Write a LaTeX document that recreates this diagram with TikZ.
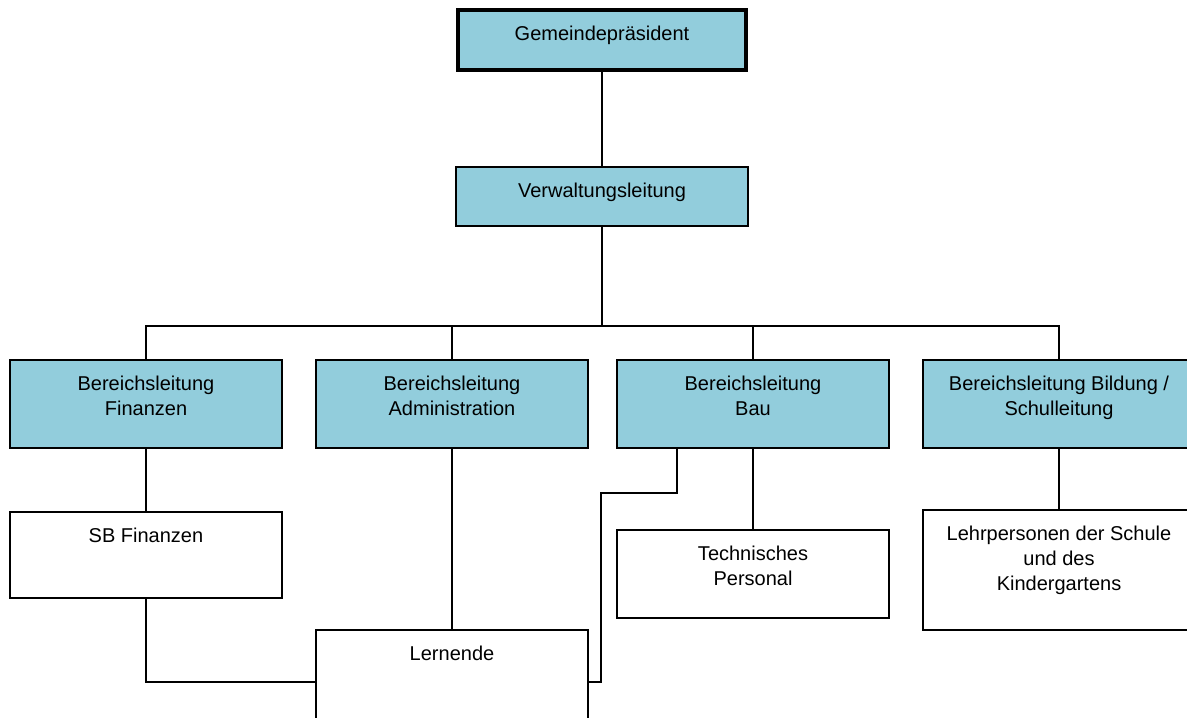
\documentclass[tikz,border=0pt]{standalone}
\usepackage{fontspec}
\setmainfont{Liberation Sans}
\usetikzlibrary{positioning}

\definecolor{leitblau}{HTML}{92CDDC}
\newcommand{\feld}[3]{\parbox[c][#1][t]{#2}{\centering\vspace*{8pt}#3}}

\begin{document}
\begin{tikzpicture}
[x=0.5pt,y=-0.5pt%
,every node/.style={draw=black,%
                    rectangle,%
                    anchor=north west,%
                    inner sep=0pt,%
                    outer sep=0pt,%
                    minimum width=136pt,%
                    line width=1pt,%
                    font=\fontsize{10}{12.5}\selectfont}%
,leitung/.style={fill=leitblau}%
,stelle/.style={fill=white}%
,linie/.style={line width=0.8pt}]
\useasboundingbox (0,0) rectangle (1187,717);
\clip (0,0) rectangle (1187,717);
\node[leitung,line width=2.2pt,minimum width=144pt] (praes) at (458,10) {\feld{30pt}{130pt}{Gemeindepräsident}};
\node[leitung,minimum width=146pt] (verw) at (456,167) {\feld{29.5pt}{130pt}{Verwaltungsleitung}};
\node[leitung] (fin) at (10,360) {\feld{44pt}{130pt}{Bereichsleitung\\Finanzen}};
\node[leitung] (adm) at (316,360) {\feld{44pt}{130pt}{Bereichsleitung\\Administration}};
\node[leitung] (bau) at (617,360) {\feld{44pt}{130pt}{Bereichsleitung\\Bau}};
\node[leitung] (bil) at (923,360) {\feld{44pt}{130pt}{Bereichsleitung Bildung /\\Schulleitung}};
\node[stelle] (sbf) at (10,512) {\feld{43pt}{130pt}{SB Finanzen}};
\node[stelle] (tech) at (617,530) {\feld{44pt}{130pt}{Technisches\\Personal}};
\node[stelle] (lehr) at (923,510) {\feld{60pt}{130pt}{Lehrpersonen der Schule\\und des\\Kindergartens}};
\node[stelle] (lern) at (316,630) {\feld{52pt}{130pt}{Lernende}};
\coordinate (bar) at (602,326);
\coordinate (bauab) at (677,448);
\coordinate (knick) at (601,493);
\draw[linie] (praes) -- (verw);
\draw[linie] (verw.south) -- (bar);
\draw[linie] (fin.north) |- (bar) -| (bil.north);
\draw[linie] (adm.north) -- (adm.north |- bar);
\draw[linie] (bau.north) -- (bau.north |- bar);
\draw[linie] (fin) -- (sbf);
\draw[linie] (sbf.south) |- (lern.west);
\draw[linie] (adm) -- (lern);
\draw[linie] (bauab) |- (knick) |- (lern.east);
\draw[linie] (bau) -- (tech);
\draw[linie] (bil) -- (lehr);
\end{tikzpicture}
\end{document}
